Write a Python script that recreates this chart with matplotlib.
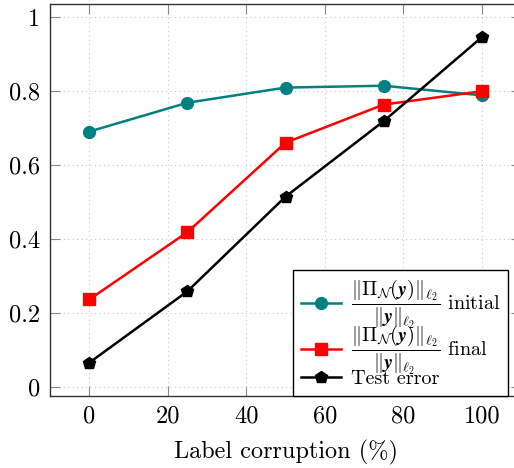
import matplotlib
matplotlib.use("Agg")
import matplotlib.pyplot as plt
from matplotlib.ticker import FixedLocator, FuncFormatter

plt.rcParams['font.family'] = 'serif'
plt.rcParams['font.serif'] = ['cmr10']
plt.rcParams['mathtext.fontset'] = 'cm'
plt.rcParams['axes.formatter.use_mathtext'] = True

corruption = [0, 25, 50, 75, 100]
proj_initial = [0.690, 0.768, 0.809, 0.814, 0.788]
proj_final = [0.236, 0.418, 0.660, 0.763, 0.799]
test_error = [0.065, 0.258, 0.514, 0.718, 0.945]

x_ticks = [0, 20, 40, 60, 80, 100]
y_ticks = [0, 0.2, 0.4, 0.6, 0.8, 1.0]

fig = plt.figure(figsize=(5.14, 4.68), dpi=100)
ax = fig.add_axes([50/514, 72/468, (521-50)/514, (396-4)/468])

frac = r'$\dfrac{\|\Pi_{\mathcal{N}}(\boldsymbol{y})\|_{\ell_2}}{\|\boldsymbol{y}\|_{\ell_2}}$'
lab_init = frac + ' initial'
lab_final = frac + ' final'

ax.plot(corruption, proj_initial, color='#008080', lw=1.8, marker='o', ms=8.5, label=lab_init, zorder=3)
ax.plot(corruption, proj_final, color='#ff0000', lw=1.8, marker='s', ms=8.5, label=lab_final, zorder=3)
ax.plot(corruption, test_error, color='black', lw=1.8, marker='p', ms=9, label='Test error', zorder=3)

ax.set_xlim(-10, 110)
ax.set_ylim(-0.025, 1.035)
ax.xaxis.set_major_locator(FixedLocator(x_ticks))
ax.yaxis.set_major_locator(FixedLocator(y_ticks))
ax.xaxis.set_major_formatter(FuncFormatter(lambda v, p: f'{v:g}'))
ax.yaxis.set_major_formatter(FuncFormatter(lambda v, p: f'{v:g}'))
ax.tick_params(direction='in', length=7, width=0.8, color='#888888', labelsize=17.5,
               top=True, right=True, pad=7)
ax.grid(True, linestyle=(0, (1, 3)), color='#c8c8c8', lw=0.8)
for s in ax.spines.values():
    s.set_color('#333333')
    s.set_linewidth(1.0)

ax.set_xlabel('Label corruption (%)', fontsize=17.5, labelpad=9)

leg = ax.legend(loc='lower left', bbox_to_anchor=(293/514, 72/468),
                bbox_transform=fig.transFigure, borderaxespad=0, fontsize=14.5,
                fancybox=False, edgecolor='black', framealpha=1, handlelength=2.0,
                handletextpad=0.5, labelspacing=-0.34, borderpad=0.38)
leg.get_frame().set_linewidth(1.0)

fig.savefig('out.png', dpi=100)
